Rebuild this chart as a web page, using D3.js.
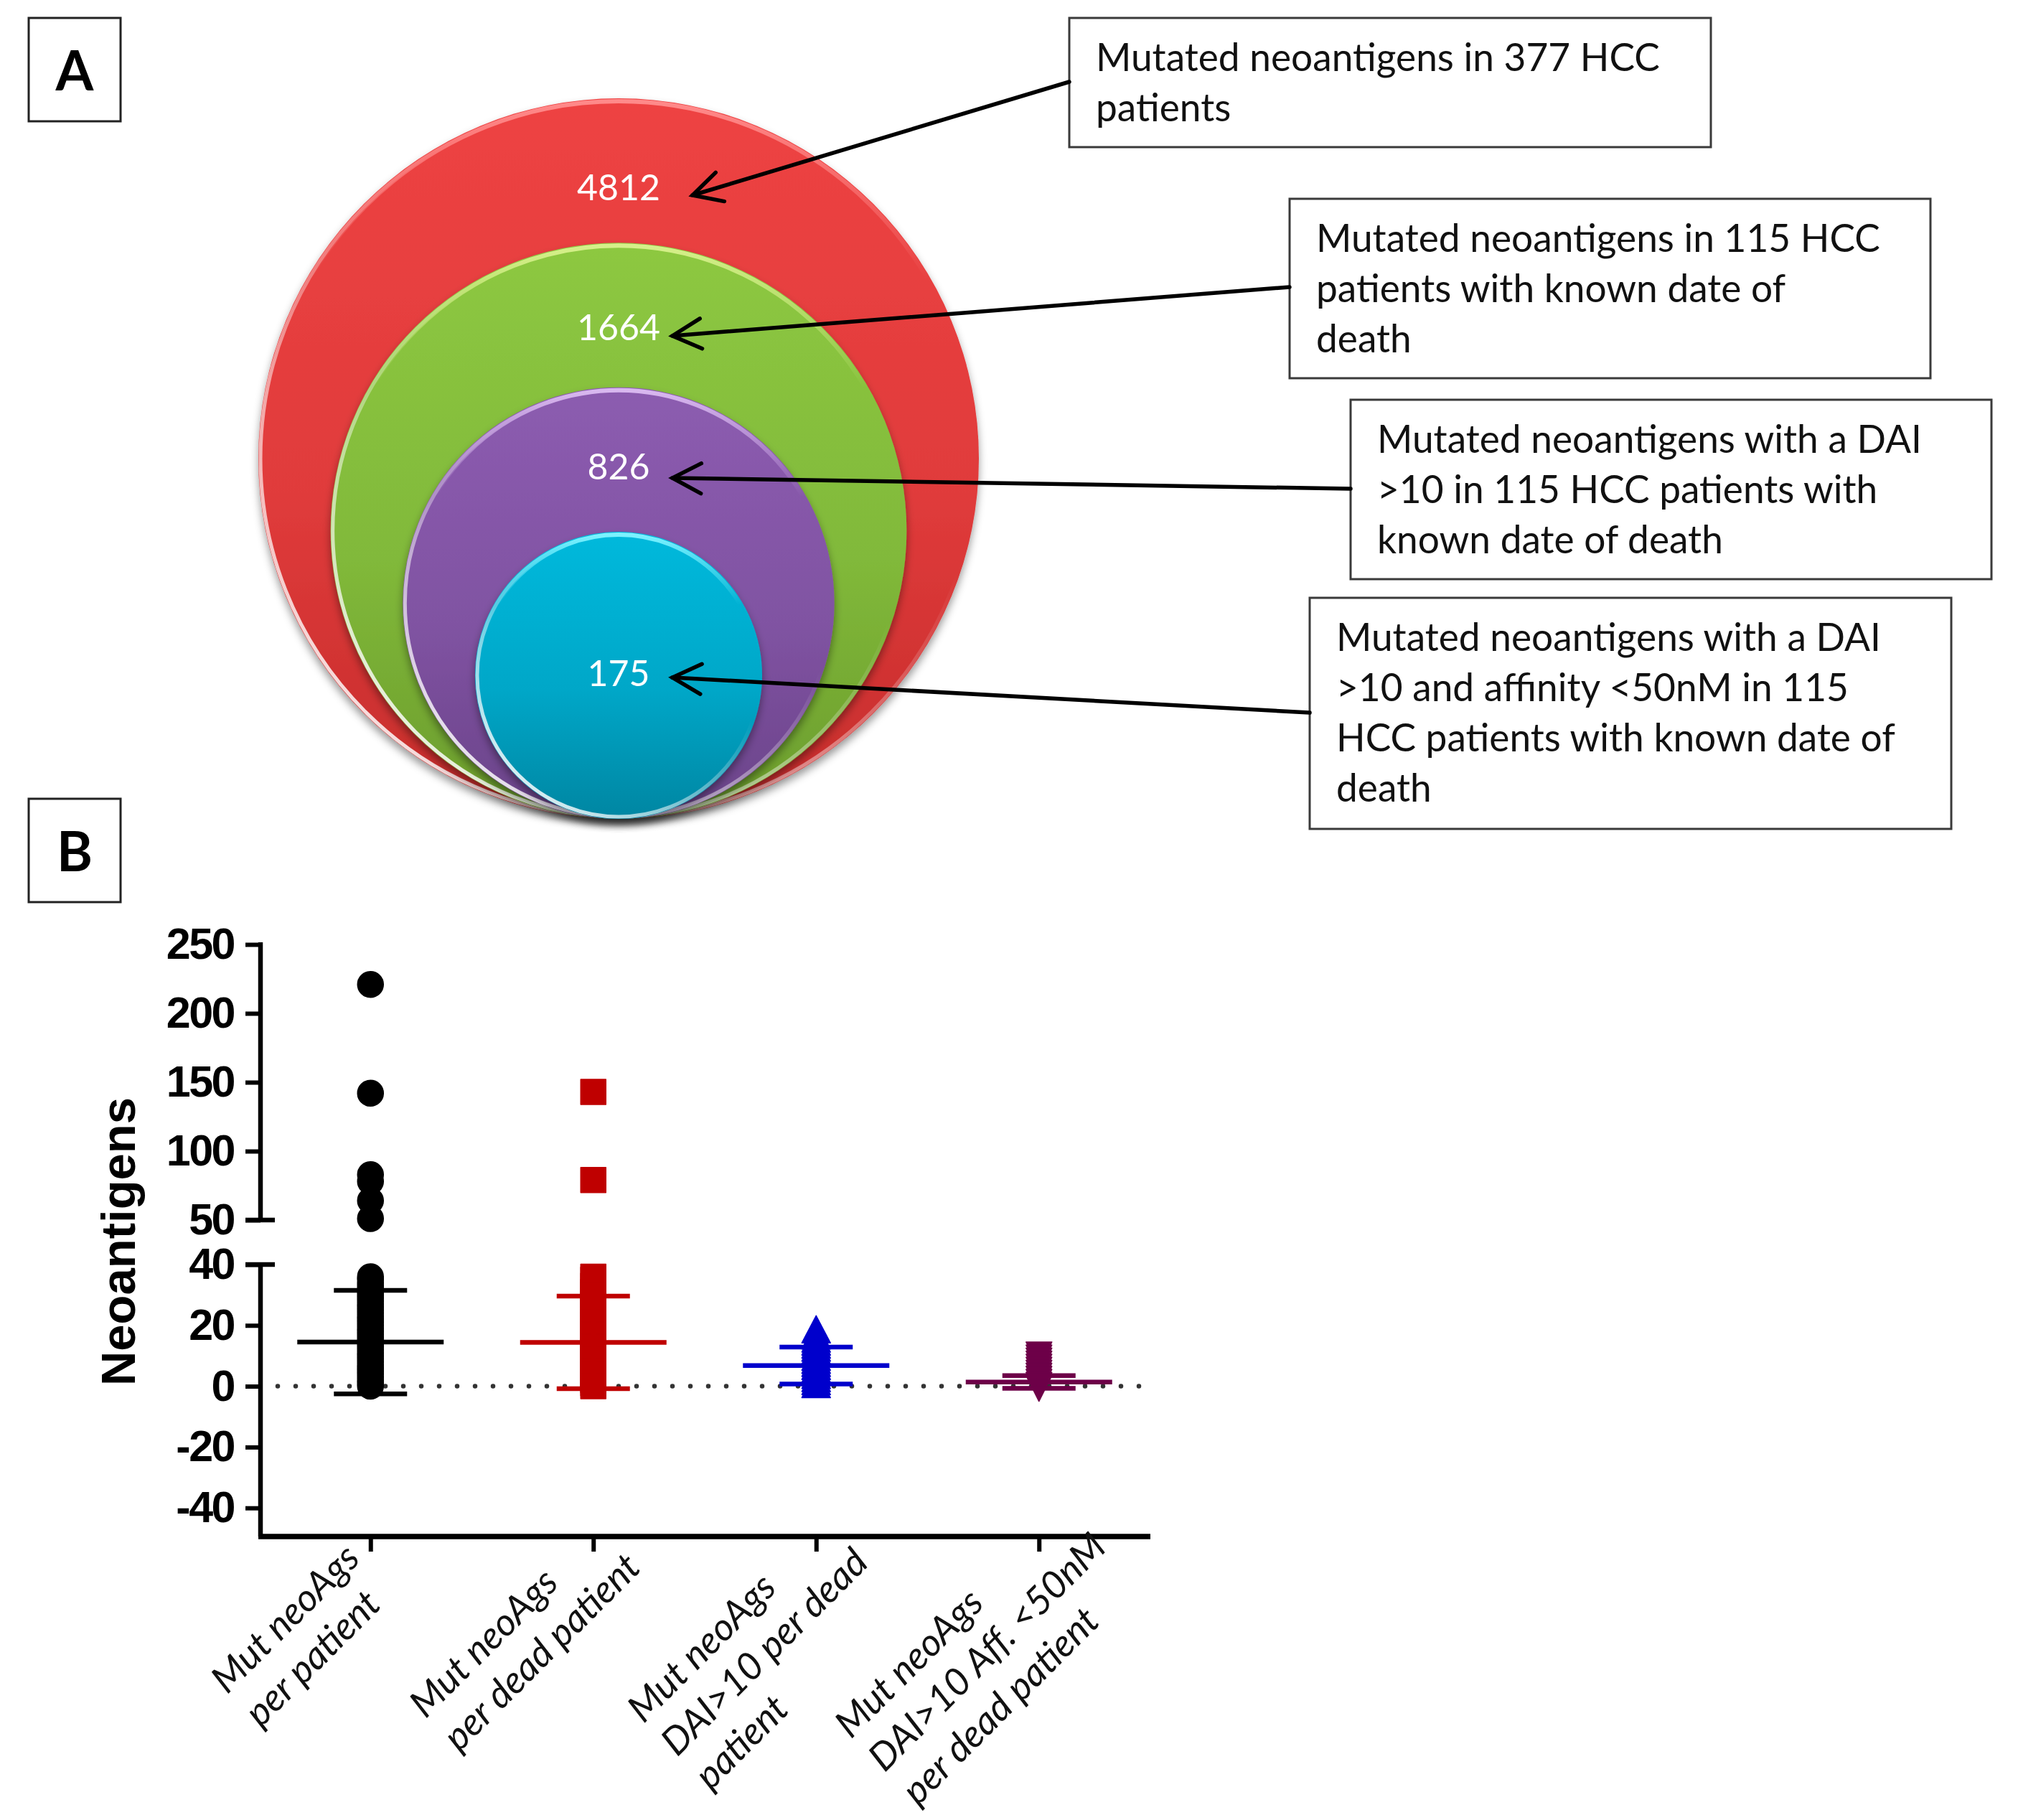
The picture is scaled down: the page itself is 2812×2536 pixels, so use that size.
<!DOCTYPE html>
<html><head><meta charset="utf-8">
<script src="https://cdn.jsdelivr.net/npm/d3@7"></script>
<style>body{margin:0;background:#fff} svg{display:block}</style>
</head><body>
<svg id="chart" width="2812" height="2536"></svg>
<script>
// ---------------- DATA ----------------
const circleCounts = [4812, 1664, 826, 175];
const boxTexts = [
  ["Mutated neoantigens in 377 HCC", "patients"],
  ["Mutated neoantigens in 115 HCC", "patients with known date of", "death"],
  ["Mutated neoantigens with a DAI", ">10 in 115 HCC patients with", "known date of death"],
  ["Mutated neoantigens with a DAI", ">10 and affinity <50nM in 115", "HCC patients with known date of", "death"]
];
const groupLabels = [
  ["Mut neoAgs", "per patient"],
  ["Mut neoAgs", "per dead patient"],
  ["Mut neoAgs", "DAI>10 per dead", "patient"],
  ["Mut neoAgs", "DAI>10 Aff. <50nM", "per dead patient"]
];
const upperTicks = [50, 100, 150, 200, 250];
const lowerTicks = [-40, -20, 0, 20, 40];
const perPatient = [221, 142, 83, 78, 64, 51, 36, 35, 34, 33, 32, 31, 30, 29, 28, 27, 26, 25, 24, 23, 22, 21, 20, 19, 18, 17, 16, 15, 14, 13, 12, 11, 10, 9, 8, 7, 6, 5, 4, 3, 2, 1, 0];
const perDeadPatient = [143, 79, 36, 35, 33, 31, 30, 28, 27, 25, 24, 22, 21, 20, 19, 18, 17, 16, 15, 14, 13, 12, 11, 10, 9, 8, 7, 6, 5, 4, 3, 2, 1, 0];
const dai10PerDead = [18, 16, 15, 14, 13, 12, 11, 10, 9, 8, 7, 6, 5, 4, 3, 2, 1, 0];
const dai10Aff50PerDead = [11, 10, 9, 8, 7, 6, 5, 4, 3, 2, 1, 0];
const groupMeans = [14.5, 14.4, 6.8, 1.4];
const groupSDs = [17.0, 15.2, 6.1, 2.1];
const groups = [perPatient, perDeadPatient, dai10PerDead, dai10Aff50PerDead];

// ---------------- STYLE / LAYOUT ----------------
const W = 2812, H = 2536;
const sans = "Lato, 'Open Sans', sans-serif";
const arial = "'Liberation Sans', Arial, sans-serif";
const circleColors = [["#EE4343", "#C52C2B"], ["#8DC841", "#6B9C2C"], ["#8C5CB0", "#6A4389"], ["#00B9DC", "#0086A2"]];
const circleRims = ["#FF8A8A", "#D6F08A", "#D9B8F0", "#7CF2FF"];
const groupColors = ["#000000", "#BF0000", "#0000CC", "#6D0048"];

const svg = d3.select("#chart");
svg.append("rect").attr("width", W).attr("height", H).attr("fill", "#fff");
const defs = svg.append("defs");

function fitSize(txt, target, family, weight, style) {
  const t = svg.append("text").attr("font-family", family).attr("font-size", 100)
    .attr("font-weight", weight || "normal").attr("font-style", style || "normal").text(txt);
  const w = t.node().getComputedTextLength();
  t.remove();
  return 100 * target / w;
}

// ---------------- PANEL LETTERS ----------------
[["A", 25, 126], ["B", 1113, 1214]].forEach(([L, top, base]) => {
  svg.append("rect").attr("x", 40).attr("y", top).attr("width", 128).attr("height", 144)
    .attr("fill", "none").attr("stroke", "#222").attr("stroke-width", 3);
  svg.append("text").attr("x", 104).attr("y", base).attr("text-anchor", "middle")
    .attr("font-family", sans).attr("font-weight", "bold").attr("font-size", 76).text(L);
});

// ---------------- PANEL A: nested circles ----------------
const cx = 862, bottomY = 1141;
const rScale = d3.scaleLinear().domain([0, circleCounts.length - 1]).range([502, 200]);

const sh = defs.append("filter").attr("id", "shadow").attr("x", "-20%").attr("y", "-20%").attr("width", "140%").attr("height", "150%");
sh.append("feDropShadow").attr("dx", 0).attr("dy", 7).attr("stdDeviation", 6).attr("flood-color", "#000").attr("flood-opacity", 0.4);

circleCounts.forEach((d, i) => {
  const g = defs.append("linearGradient").attr("id", "fill" + i).attr("x1", 0).attr("y1", 0).attr("x2", 0).attr("y2", 1);
  g.append("stop").attr("offset", 0).attr("stop-color", circleColors[i][0]);
  g.append("stop").attr("offset", 0.55).attr("stop-color", d3.interpolateRgb(circleColors[i][0], circleColors[i][1])(0.35));
  g.append("stop").attr("offset", 1).attr("stop-color", circleColors[i][1]);
  const rim = defs.append("linearGradient").attr("id", "rim" + i).attr("x1", 0.1).attr("y1", 0.95).attr("x2", 0.6).attr("y2", 0.35);
  rim.append("stop").attr("offset", 0).attr("stop-color", "#fff").attr("stop-opacity", 0.95);
  rim.append("stop").attr("offset", 0.5).attr("stop-color", "#fff").attr("stop-opacity", 0.5);
  rim.append("stop").attr("offset", 1).attr("stop-color", "#fff").attr("stop-opacity", 0);
  const top = defs.append("linearGradient").attr("id", "top" + i).attr("x1", 0).attr("y1", 0).attr("x2", 0).attr("y2", 1);
  top.append("stop").attr("offset", 0).attr("stop-color", circleRims[i]).attr("stop-opacity", 1);
  top.append("stop").attr("offset", 0.25).attr("stop-color", circleRims[i]).attr("stop-opacity", 0);
  top.append("stop").attr("offset", 1).attr("stop-color", circleRims[i]).attr("stop-opacity", 0);
});

const bubbles = svg.append("g");
bubbles.selectAll("g.bubble").data(circleCounts).join("g").attr("class", "bubble")
  .each(function (d, i) {
    const r = rScale(i), cy = bottomY - r, g = d3.select(this);
    g.append("circle").attr("cx", cx).attr("cy", cy).attr("r", r)
      .attr("fill", `url(#fill${i})`).attr("filter", "url(#shadow)");
    g.append("circle").attr("cx", cx).attr("cy", cy).attr("r", r - 4)
      .attr("fill", "none").attr("stroke", `url(#top${i})`).attr("stroke-width", 6);
    g.append("circle").attr("cx", cx).attr("cy", cy).attr("r", r - 3)
      .attr("fill", "none").attr("stroke", `url(#rim${i})`).attr("stroke-width", 5);
  });

const numSize = fitSize("4812", 116, sans);
const labelCenterY = [261, 456, 650, 938];
svg.append("g").selectAll("text").data(circleCounts).join("text")
  .attr("x", cx).attr("y", (d, i) => labelCenterY[i] + numSize * 0.36)
  .attr("text-anchor", "middle").attr("fill", "#fff")
  .attr("font-family", sans).attr("font-size", numSize).text(d => d);

// ---------------- PANEL A: text boxes + arrows ----------------
const boxes = [
  { x: 1490, y: 25, w: 894, h: 180, ay: 114, tip: [965, 272] },
  { x: 1797, y: 277, w: 893, h: 250, ay: 400, tip: [937, 468] },
  { x: 1882, y: 557, w: 893, h: 250, ay: 681, tip: [937, 666] },
  { x: 1825, y: 833, w: 894, h: 322, ay: 993, tip: [937, 944] }
];
const boxFont = fitSize(boxTexts[0][0], 786, sans);
const boxG = svg.append("g").selectAll("g").data(boxTexts).join("g");
boxG.append("rect").attr("x", (d, i) => boxes[i].x).attr("y", (d, i) => boxes[i].y)
  .attr("width", (d, i) => boxes[i].w).attr("height", (d, i) => boxes[i].h)
  .attr("fill", "#fff").attr("stroke", "#3a3a3a").attr("stroke-width", 3);
boxG.each(function (lines, i) {
  d3.select(this).selectAll("text").data(lines).join("text")
    .attr("x", boxes[i].x + 37).attr("y", (d, j) => boxes[i].y + 74 + j * 70)
    .attr("font-family", sans).attr("font-size", boxFont).attr("fill", "#111").text(d => d);
});
const arrows = svg.append("g").attr("stroke", "#000").attr("stroke-width", 5.5).attr("fill", "none").attr("stroke-linecap", "round");
boxes.forEach(b => {
  const [tx, ty] = b.tip, sx = b.x, sy = b.ay;
  const dx = tx - sx, dy = ty - sy, L = Math.hypot(dx, dy), ux = dx / L, uy = dy / L;
  arrows.append("line").attr("x1", sx).attr("y1", sy).attr("x2", tx).attr("y2", ty);
  const a = 40, s = 21;
  arrows.append("path").attr("stroke-linejoin", "miter")
    .attr("d", `M${tx - a * ux - s * uy},${ty - a * uy + s * ux}L${tx},${ty}L${tx - a * ux + s * uy},${ty - a * uy - s * ux}`);
});

// ---------------- PANEL B: scatter dot plot ----------------
const axX = 363, axisBottom = 2141, xRight = 1603;
const xScale = d3.scalePoint().domain(d3.range(groups.length)).range([361, xRight]).padding(0.5);
const yUp = d3.scaleLinear().domain([50, 250]).range([1700, 1316]);
const yLo = d3.scaleLinear().domain([-49.4, 40]).range([axisBottom, 1762]);
const yv = v => v > 45 ? yUp(v) : yLo(v);

function styleAxis(g) {
  g.select(".domain").remove();
  g.selectAll(".tick line").attr("stroke", "#000").attr("stroke-width", 6);
  g.selectAll(".tick text").attr("font-family", arial).attr("font-weight", "bold")
    .attr("font-size", 61).attr("letter-spacing", -2.5).attr("fill", "#000");
}
const tickFmt = d => String(d);
svg.append("g").attr("transform", `translate(${axX},0)`)
  .call(d3.axisLeft(yUp).tickValues(upperTicks).tickFormat(tickFmt).tickSize(21).tickSizeOuter(0).tickPadding(16))
  .call(styleAxis);
svg.append("g").attr("transform", `translate(${axX},0)`)
  .call(d3.axisLeft(yLo).tickValues(lowerTicks).tickFormat(tickFmt).tickSize(21).tickSizeOuter(0).tickPadding(16))
  .call(styleAxis);

const axisLines = svg.append("g").attr("stroke", "#000").attr("stroke-width", 6.5);
axisLines.append("line").attr("x1", axX).attr("x2", axX).attr("y1", yUp(250) - 3).attr("y2", yUp(50) + 3);
axisLines.append("line").attr("x1", axX).attr("x2", axX).attr("y1", yLo(40) - 3).attr("y2", axisBottom);
axisLines.append("line").attr("x1", 342).attr("x2", 383).attr("y1", yUp(50)).attr("y2", yUp(50));
axisLines.append("line").attr("x1", 342).attr("x2", 383).attr("y1", yLo(40)).attr("y2", yLo(40));
axisLines.append("line").attr("x1", axX - 3).attr("x2", xRight).attr("y1", axisBottom).attr("y2", axisBottom).attr("stroke-width", 7.5);

const xAx = svg.append("g").attr("transform", `translate(0,${axisBottom})`)
  .call(d3.axisBottom(xScale).tickSize(21).tickSizeOuter(0).tickFormat(""));
xAx.select(".domain").remove();
xAx.selectAll(".tick line").attr("stroke", "#000").attr("stroke-width", 6);

// zero reference line (dotted)
svg.append("line").attr("x1", 387).attr("x2", 1606).attr("y1", yLo(0)).attr("y2", yLo(0))
  .attr("stroke", "#333").attr("stroke-width", 6.5).attr("stroke-linecap", "round")
  .attr("stroke-dasharray", "0 25");

// y title
svg.append("text").attr("transform", `translate(188,1730) rotate(-90)`).attr("text-anchor", "middle")
  .attr("font-family", arial).attr("font-weight", "bold").attr("font-size", 67).text("Neoantigens");

// points
const shapes = [
  "M0,-18A18,18 0 1,1 0,18A18,18 0 1,1 0,-18Z",
  "M-17.5,-17.5H17.5V17.5H-17.5Z",
  "M0,-22L20,16L-20,16Z",
  "M0,21L18,-15L-18,-15Z"
];
const ptsG = svg.append("g");
groups.forEach((vals, gi) => {
  ptsG.append("g").selectAll("path").data(vals).join("path")
    .attr("transform", d => `translate(${xScale(gi)},${yv(d)})`)
    .attr("d", shapes[gi]).attr("fill", groupColors[gi])
    .attr("stroke", groupColors[gi]).attr("stroke-width", 1.5).attr("stroke-linejoin", "round");
});

// mean +/- SD
const statG = svg.append("g").attr("stroke-width", 6.5);
groupMeans.forEach((m, gi) => {
  const x = xScale(gi), c = groupColors[gi], sdv = groupSDs[gi];
  statG.append("line").attr("x1", x).attr("x2", x).attr("y1", yLo(m + sdv)).attr("y2", yLo(m - sdv)).attr("stroke", c);
  statG.append("line").attr("x1", x - 102).attr("x2", x + 102).attr("y1", yLo(m)).attr("y2", yLo(m)).attr("stroke", c);
  [m + sdv, m - sdv].forEach(v => statG.append("line").attr("x1", x - 51).attr("x2", x + 51)
    .attr("y1", yLo(v)).attr("y2", yLo(v)).attr("stroke", c));
});

// rotated category labels
const labG = svg.append("g").selectAll("g").data(groupLabels).join("g")
  .attr("transform", (d, i) => `translate(${xScale(i) - 106},2268) rotate(-45)`);
labG.each(function (lines) {
  const g = d3.select(this);
  const texts = g.selectAll("text").data(lines).join("text")
    .attr("y", (d, j) => j * 66).attr("font-family", sans).attr("font-style", "italic")
    .attr("font-size", 53).attr("fill", "#111").text(d => d);
  const maxW = d3.max(texts.nodes(), n => n.getComputedTextLength());
  texts.attr("x", -maxW / 2);
});
</script>
</body></html>
